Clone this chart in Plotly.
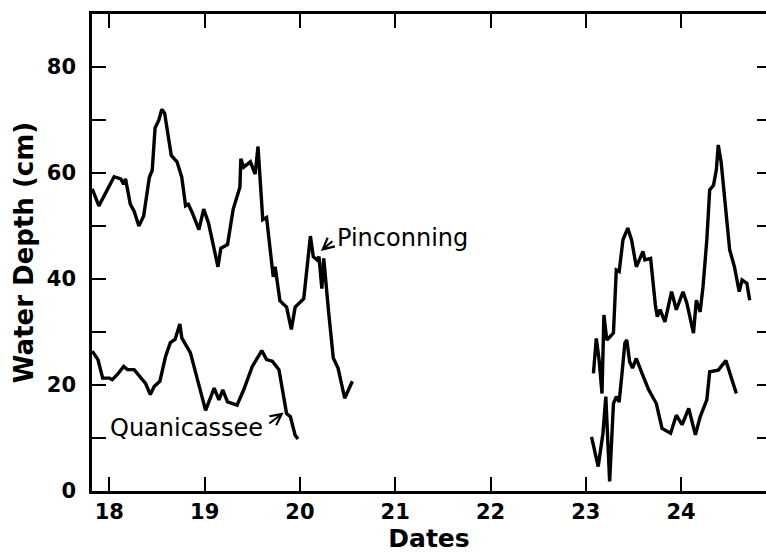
import plotly.graph_objects as go

# Pinconning, 18-20 Jan segment
pin1_x = [17.82, 17.89, 18.05, 18.12, 18.15, 18.17, 18.22, 18.26, 18.31, 18.36, 18.42, 18.45,
          18.48, 18.52, 18.55, 18.58, 18.65, 18.71, 18.76, 18.80, 18.83, 18.87, 18.94, 18.99,
          19.04, 19.14, 19.17, 19.24, 19.30, 19.37, 19.38, 19.41, 19.48, 19.53, 19.56, 19.58,
          19.61, 19.65, 19.72, 19.74, 19.76, 19.79, 19.86, 19.91, 19.95, 20.04, 20.11, 20.14,
          20.18, 20.20, 20.23, 20.25, 20.30, 20.35, 20.40, 20.47, 20.55]
pin1_y = [57.0, 53.8, 59.3, 58.9, 57.9, 58.9, 54.1, 52.8, 50.0, 51.9, 59.2, 60.5,
          68.5, 70.0, 72.0, 71.3, 63.3, 62.1, 59.2, 53.8, 54.1, 52.5, 49.3, 53.2,
          50.6, 42.3, 45.8, 46.5, 53.2, 57.3, 62.7, 61.1, 62.1, 59.8, 65.0, 59.5,
          51.2, 51.6, 40.4, 42.3, 39.8, 35.9, 34.7, 30.5, 34.7, 36.3, 48.1, 44.2,
          43.6, 44.2, 38.2, 43.9, 34.0, 25.1, 23.2, 17.5, 20.7]

# Pinconning, 23-24 Jan segment
pin2_x = [23.08, 23.11, 23.14, 23.17, 23.19, 23.22, 23.29, 23.32, 23.35, 23.39, 23.44, 23.48,
          23.53, 23.57, 23.60, 23.62, 23.68, 23.73, 23.75, 23.78, 23.83, 23.90, 23.95, 24.02,
          24.06, 24.13, 24.16, 24.20, 24.23, 24.27, 24.30, 24.34, 24.37, 24.39, 24.42, 24.51,
          24.56, 24.61, 24.64, 24.69, 24.72]
pin2_y = [22.2, 28.8, 24.7, 18.4, 33.2, 28.5, 29.8, 41.7, 41.4, 47.4, 49.6, 47.4,
          42.3, 44.2, 45.2, 43.6, 43.9, 35.1, 32.9, 34.2, 31.9, 37.6, 34.2, 37.6,
          35.5, 29.8, 36.0, 33.8, 38.5, 47.4, 56.8, 57.7, 60.6, 65.3, 62.1, 45.5,
          42.3, 37.6, 39.8, 39.2, 36.0]

# Quanicassee, 18-20 Jan segment
qua1_x = [17.82, 17.88, 17.93, 18.00, 18.03, 18.08, 18.15, 18.19, 18.26, 18.33, 18.38, 18.43,
          18.47, 18.53, 18.59, 18.64, 18.69, 18.74, 18.76, 18.85, 19.01, 19.10, 19.15, 19.19,
          19.24, 19.34, 19.41, 19.50, 19.60, 19.65, 19.71, 19.78, 19.86, 19.90, 19.95, 19.98]
qua1_y = [26.4, 24.8, 21.3, 21.3, 21.0, 21.9, 23.5, 22.9, 22.9, 21.3, 20.3, 18.2,
          19.7, 20.7, 25.4, 28.0, 28.6, 31.5, 28.9, 26.1, 15.2, 19.4, 17.2, 19.1,
          16.8, 16.2, 19.1, 23.5, 26.5, 24.8, 24.5, 22.9, 14.6, 14.0, 10.5, 9.8]

# Quanicassee, 23-24 Jan segment
qua2_x = [23.06, 23.13, 23.18, 23.21, 23.25, 23.29, 23.32, 23.35, 23.38, 23.41, 23.43, 23.46,
          23.49, 23.53, 23.59, 23.66, 23.74, 23.80, 23.89, 23.95, 24.01, 24.08, 24.15, 24.20,
          24.27, 24.30, 24.39, 24.47, 24.58]
qua2_y = [10.2, 4.6, 10.9, 17.8, 1.8, 16.5, 17.8, 16.8, 22.2, 27.9, 28.5, 24.4,
          23.2, 25.0, 22.2, 19.1, 16.5, 11.8, 10.9, 14.3, 12.5, 15.6, 10.6, 14.0,
          17.2, 22.5, 22.8, 24.6, 18.4]

x_ticks = [18, 19, 20, 21, 22, 23, 24]
y_ticks = [0, 10, 20, 30, 40, 50, 60, 70, 80]
y_ticktext = ["0", "", "20", "", "40", "", "60", "", "80"]

LINE = dict(color="black", width=3.4)
fig = go.Figure()
for xs, ys in [(pin1_x, pin1_y), (pin2_x, pin2_y), (qua1_x, qua1_y), (qua2_x, qua2_y)]:
    fig.add_trace(go.Scatter(x=xs, y=ys, mode="lines", line=LINE, showlegend=False,
                             hoverinfo="skip"))

FONT = "DejaVu Sans"
fig.update_layout(
    width=766, height=553,
    margin=dict(l=92, r=0, t=14, b=62, autoexpand=False),
    plot_bgcolor="white", paper_bgcolor="white",
    font=dict(family=FONT, color="black"),
    xaxis=dict(
        range=[17.818, 24.891], tickvals=x_ticks, ticktext=[str(v) for v in x_ticks],
        ticks="inside", ticklen=14, tickwidth=2, tickcolor="black",
        showline=True, linewidth=2.5, linecolor="black", mirror="ticks",
        showgrid=False, zeroline=False,
        tickfont=dict(family=FONT, size=21, weight="bold"),
        title=dict(text="Dates", font=dict(family=FONT, size=25, weight="bold"), standoff=13),
        automargin=False,
    ),
    yaxis=dict(
        range=[0, 90], tickvals=y_ticks, ticktext=y_ticktext,
        ticks="inside", ticklen=14, tickwidth=2, tickcolor="black",
        showline=True, linewidth=2.5, linecolor="black", mirror=False,
        showgrid=False, zeroline=False,
        tickfont=dict(family=FONT, size=21, weight="bold"), ticklabelstandoff=9,
        title=dict(text="Water Depth (cm)", font=dict(family=FONT, size=26, weight="bold"), standoff=6),
        automargin=False,
    ),
)

# right-side inward ticks (right frame lies just beyond the picture edge)
for v in y_ticks[1:]:
    fig.add_shape(type="line", xref="paper", yref="y", x0=1 - 9 / 674, x1=1.0, y0=v, y1=v,
                  line=dict(color="black", width=2))

# labels with arrows
fig.add_annotation(x=20.22, y=45.3, ax=13, ay=-11, text="", showarrow=True,
                   arrowhead=5, arrowsize=1.1, arrowwidth=2, arrowcolor="black")
fig.add_annotation(x=20.37, y=47.8, text="Pinconning", showarrow=False, xanchor="left",
                   font=dict(family=FONT, size=24, color="black"))
fig.add_annotation(x=19.83, y=14.8, ax=-16, ay=12, text="", showarrow=True,
                   arrowhead=5, arrowsize=1.1, arrowwidth=2, arrowcolor="black")
fig.add_annotation(x=17.99, y=11.9, text="Quanicassee", showarrow=False, xanchor="left",
                   font=dict(family=FONT, size=24, color="black"))

fig.write_html("out.html")
